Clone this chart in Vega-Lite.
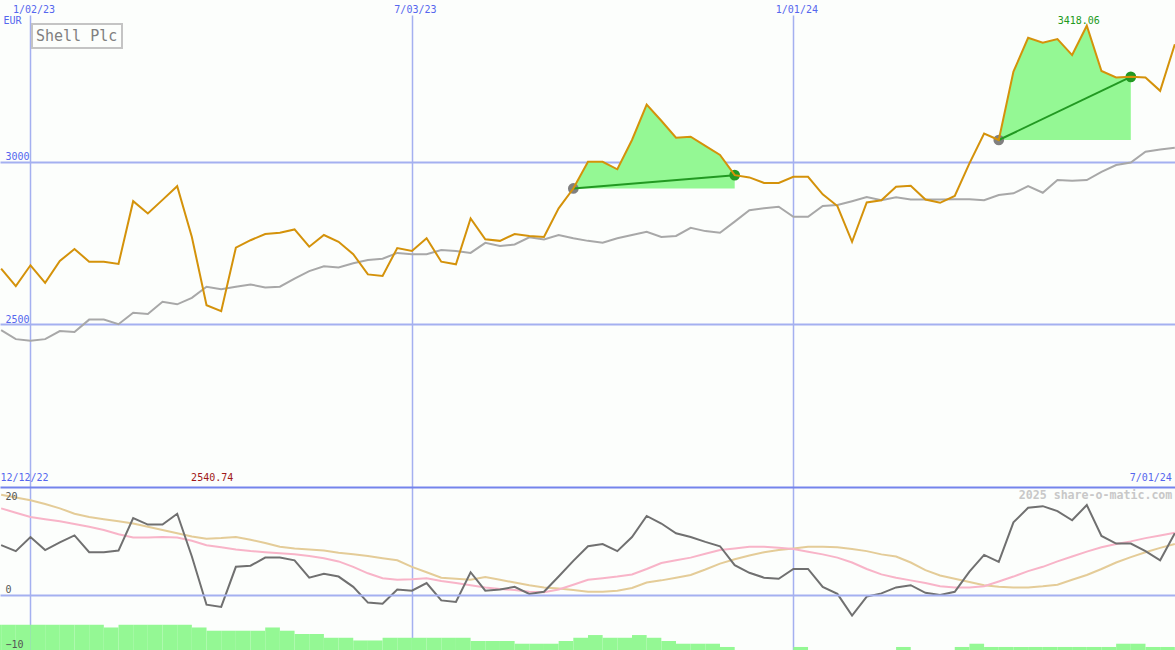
{
"$schema": "https://vega.github.io/schema/vega-lite/v6.json",
"width": 1175,
"height": 635,
"autosize": {"type": "none"},
"padding": {"top": 15, "left": 0, "right": 0, "bottom": 0},
"background": "#fcfefc",
"config": {"view": {"stroke": null}, "font": "DejaVu Sans Mono"},
"datasets": {
"w": [
{"d":"2022-12-19","p":2672,"g":2483,"o":9.2,"pk":16.0,"tn":18.5},
{"d":"2022-12-26","p":2618,"g":2455,"o":8.1,"pk":15.2,"tn":18.0},
{"d":"2023-01-02","p":2682,"g":2450,"o":10.7,"pk":14.4,"tn":17.5},
{"d":"2023-01-09","p":2628,"g":2455,"o":8.3,"pk":14.0,"tn":16.8},
{"d":"2023-01-16","p":2695,"g":2480,"o":9.7,"pk":13.6,"tn":16.0},
{"d":"2023-01-23","p":2732,"g":2477,"o":11.0,"pk":13.1,"tn":15.0},
{"d":"2023-01-30","p":2693,"g":2515,"o":7.9,"pk":12.6,"tn":14.4},
{"d":"2023-02-06","p":2693,"g":2515,"o":7.9,"pk":12.0,"tn":14.0},
{"d":"2023-02-13","p":2686,"g":2501,"o":8.2,"pk":11.2,"tn":13.6},
{"d":"2023-02-20","p":2879,"g":2536,"o":14.2,"pk":10.6,"tn":13.2},
{"d":"2023-02-27","p":2841,"g":2532,"o":13.0,"pk":10.6,"tn":12.6},
{"d":"2023-03-06","p":2883,"g":2570,"o":13.0,"pk":10.7,"tn":12.0},
{"d":"2023-03-13","p":2925,"g":2562,"o":15.0,"pk":10.6,"tn":11.4},
{"d":"2023-03-20","p":2769,"g":2582,"o":7.1,"pk":10.0,"tn":10.8},
{"d":"2023-03-27","p":2559,"g":2616,"o":-1.8,"pk":9.2,"tn":10.4},
{"d":"2023-04-03","p":2540.74,"g":2608,"o":-2.2,"pk":8.8,"tn":10.5},
{"d":"2023-04-10","p":2736,"g":2616,"o":5.2,"pk":8.4,"tn":10.7},
{"d":"2023-04-17","p":2759,"g":2623,"o":5.4,"pk":8.1,"tn":10.2},
{"d":"2023-04-24","p":2778,"g":2614,"o":6.9,"pk":7.9,"tn":9.6},
{"d":"2023-05-01","p":2782,"g":2616,"o":6.9,"pk":7.7,"tn":8.9},
{"d":"2023-05-08","p":2792,"g":2641,"o":6.4,"pk":7.5,"tn":8.6},
{"d":"2023-05-15","p":2739,"g":2664,"o":3.2,"pk":7.2,"tn":8.4},
{"d":"2023-05-22","p":2775,"g":2679,"o":3.9,"pk":6.8,"tn":8.2},
{"d":"2023-05-29","p":2754,"g":2675,"o":3.4,"pk":6.2,"tn":7.8},
{"d":"2023-06-05","p":2716,"g":2688,"o":1.5,"pk":5.2,"tn":7.5},
{"d":"2023-06-12","p":2654,"g":2698,"o":-1.4,"pk":4.0,"tn":7.2},
{"d":"2023-06-19","p":2649,"g":2702,"o":-1.6,"pk":3.1,"tn":6.8},
{"d":"2023-06-26","p":2735,"g":2720,"o":1.0,"pk":2.8,"tn":6.4},
{"d":"2023-07-03","p":2726,"g":2716,"o":0.8,"pk":2.9,"tn":5.2},
{"d":"2023-07-10","p":2765,"g":2716,"o":2.2,"pk":3.1,"tn":4.2},
{"d":"2023-07-17","p":2693,"g":2729,"o":-1.0,"pk":2.6,"tn":3.2},
{"d":"2023-07-24","p":2685,"g":2726,"o":-1.3,"pk":2.2,"tn":3.0},
{"d":"2023-07-31","p":2826,"g":2720,"o":4.2,"pk":1.8,"tn":2.8},
{"d":"2023-08-07","p":2762,"g":2751,"o":0.8,"pk":1.4,"tn":3.3},
{"d":"2023-08-14","p":2757,"g":2741,"o":1.0,"pk":1.1,"tn":2.8},
{"d":"2023-08-21","p":2778,"g":2746,"o":1.5,"pk":0.9,"tn":2.3},
{"d":"2023-08-28","p":2772,"g":2768,"o":0.2,"pk":0.6,"tn":1.8},
{"d":"2023-09-04","p":2769,"g":2761,"o":0.6,"pk":0.5,"tn":1.4},
{"d":"2023-09-11","p":2857,"g":2775,"o":3.4,"pk":1.0,"tn":1.2},
{"d":"2023-09-18","p":2918,"g":2765,"o":6.3,"pk":1.9,"tn":0.9},
{"d":"2023-09-25","p":3000,"g":2757,"o":9.0,"pk":2.8,"tn":0.6},
{"d":"2023-10-02","p":3000,"g":2751,"o":9.4,"pk":3.1,"tn":0.6},
{"d":"2023-10-09","p":2977,"g":2765,"o":8.1,"pk":3.4,"tn":0.8},
{"d":"2023-10-16","p":3067,"g":2775,"o":10.7,"pk":3.8,"tn":1.3},
{"d":"2023-10-23","p":3176,"g":2785,"o":14.6,"pk":4.8,"tn":2.3},
{"d":"2023-10-30","p":3126,"g":2769,"o":13.2,"pk":5.9,"tn":2.7},
{"d":"2023-11-06","p":3074,"g":2772,"o":11.4,"pk":6.4,"tn":3.2},
{"d":"2023-11-13","p":3077,"g":2797,"o":10.7,"pk":6.9,"tn":3.7},
{"d":"2023-11-20","p":3049,"g":2787,"o":9.8,"pk":7.6,"tn":4.7},
{"d":"2023-11-27","p":3021,"g":2782,"o":9.0,"pk":8.3,"tn":5.8},
{"d":"2023-12-04","p":2959,"g":2816,"o":5.5,"pk":8.6,"tn":6.6},
{"d":"2023-12-11","p":2952,"g":2851,"o":4.1,"pk":8.9,"tn":7.3},
{"d":"2023-12-18","p":2935,"g":2857,"o":3.2,"pk":8.9,"tn":7.9},
{"d":"2023-12-25","p":2935,"g":2862,"o":3.0,"pk":8.7,"tn":8.3},
{"d":"2024-01-01","p":2954,"g":2831,"o":4.8,"pk":8.5,"tn":8.6},
{"d":"2024-01-08","p":2954,"g":2831,"o":4.8,"pk":8.0,"tn":8.9},
{"d":"2024-01-15","p":2900,"g":2864,"o":1.5,"pk":7.5,"tn":8.9},
{"d":"2024-01-22","p":2864,"g":2867,"o":0.2,"pk":6.9,"tn":8.8},
{"d":"2024-01-29","p":2754,"g":2879,"o":-3.8,"pk":6.0,"tn":8.5},
{"d":"2024-02-05","p":2875,"g":2892,"o":-0.3,"pk":4.8,"tn":8.1},
{"d":"2024-02-12","p":2882,"g":2882,"o":0.3,"pk":3.8,"tn":7.5},
{"d":"2024-02-19","p":2923,"g":2891,"o":1.4,"pk":3.2,"tn":7.1},
{"d":"2024-02-26","p":2926,"g":2884,"o":1.8,"pk":2.7,"tn":6.0},
{"d":"2024-03-04","p":2884,"g":2884,"o":0.4,"pk":2.2,"tn":4.6},
{"d":"2024-03-11","p":2874,"g":2884,"o":0.0,"pk":1.6,"tn":3.6},
{"d":"2024-03-18","p":2895,"g":2885,"o":0.6,"pk":1.4,"tn":3.0},
{"d":"2024-03-25","p":2995,"g":2885,"o":4.3,"pk":1.4,"tn":2.4},
{"d":"2024-04-01","p":3087,"g":2882,"o":7.4,"pk":1.6,"tn":1.8},
{"d":"2024-04-08","p":3067,"g":2898,"o":6.1,"pk":2.5,"tn":1.5},
{"d":"2024-04-15","p":3277,"g":2903,"o":13.4,"pk":3.4,"tn":1.4},
{"d":"2024-04-22","p":3381,"g":2925,"o":16.1,"pk":4.4,"tn":1.4},
{"d":"2024-04-29","p":3366,"g":2905,"o":16.4,"pk":5.2,"tn":1.6},
{"d":"2024-05-06","p":3377,"g":2944,"o":15.5,"pk":6.2,"tn":1.9},
{"d":"2024-05-13","p":3328,"g":2942,"o":13.8,"pk":7.1,"tn":2.8},
{"d":"2024-05-20","p":3418.06,"g":2944,"o":16.6,"pk":8.0,"tn":3.7},
{"d":"2024-05-27","p":3279,"g":2969,"o":10.9,"pk":8.8,"tn":4.8},
{"d":"2024-06-03","p":3259,"g":2990,"o":9.5,"pk":9.4,"tn":6.0},
{"d":"2024-06-10","p":3261,"g":2998,"o":9.5,"pk":9.9,"tn":7.0},
{"d":"2024-06-17","p":3259,"g":3031,"o":8.1,"pk":10.5,"tn":7.9},
{"d":"2024-06-24","p":3218,"g":3038,"o":6.4,"pk":11.0,"tn":8.7},
{"d":"2024-07-01","p":3361,"g":3043,"o":11.4,"pk":11.5,"tn":9.4}
],
"bars": [
{"d":"2022-12-12","e":"2022-12-19","v":-5.5},
{"d":"2022-12-19","e":"2022-12-26","v":-5.5},
{"d":"2022-12-26","e":"2023-01-02","v":-5.5},
{"d":"2023-01-02","e":"2023-01-09","v":-5.5},
{"d":"2023-01-09","e":"2023-01-16","v":-5.5},
{"d":"2023-01-16","e":"2023-01-23","v":-5.5},
{"d":"2023-01-23","e":"2023-01-30","v":-5.5},
{"d":"2023-01-30","e":"2023-02-06","v":-5.5},
{"d":"2023-02-06","e":"2023-02-13","v":-6.0},
{"d":"2023-02-13","e":"2023-02-20","v":-5.5},
{"d":"2023-02-20","e":"2023-02-27","v":-5.5},
{"d":"2023-02-27","e":"2023-03-06","v":-5.5},
{"d":"2023-03-06","e":"2023-03-13","v":-5.5},
{"d":"2023-03-13","e":"2023-03-20","v":-5.5},
{"d":"2023-03-20","e":"2023-03-27","v":-6.0},
{"d":"2023-03-27","e":"2023-04-03","v":-6.6},
{"d":"2023-04-03","e":"2023-04-10","v":-6.6},
{"d":"2023-04-10","e":"2023-04-17","v":-6.6},
{"d":"2023-04-17","e":"2023-04-24","v":-6.6},
{"d":"2023-04-24","e":"2023-05-01","v":-6.0},
{"d":"2023-05-01","e":"2023-05-08","v":-6.6},
{"d":"2023-05-08","e":"2023-05-15","v":-7.2},
{"d":"2023-05-15","e":"2023-05-22","v":-7.2},
{"d":"2023-05-22","e":"2023-05-29","v":-7.9},
{"d":"2023-05-29","e":"2023-06-05","v":-7.9},
{"d":"2023-06-05","e":"2023-06-12","v":-8.4},
{"d":"2023-06-12","e":"2023-06-19","v":-8.4},
{"d":"2023-06-19","e":"2023-06-26","v":-7.9},
{"d":"2023-06-26","e":"2023-07-03","v":-7.9},
{"d":"2023-07-03","e":"2023-07-10","v":-7.9},
{"d":"2023-07-10","e":"2023-07-17","v":-7.9},
{"d":"2023-07-17","e":"2023-07-24","v":-7.9},
{"d":"2023-07-24","e":"2023-07-31","v":-7.9},
{"d":"2023-07-31","e":"2023-08-07","v":-8.5},
{"d":"2023-08-07","e":"2023-08-14","v":-8.5},
{"d":"2023-08-14","e":"2023-08-21","v":-8.5},
{"d":"2023-08-21","e":"2023-08-28","v":-9.0},
{"d":"2023-08-28","e":"2023-09-04","v":-9.0},
{"d":"2023-09-04","e":"2023-09-11","v":-9.0},
{"d":"2023-09-11","e":"2023-09-18","v":-8.5},
{"d":"2023-09-18","e":"2023-09-25","v":-7.9},
{"d":"2023-09-25","e":"2023-10-02","v":-7.4},
{"d":"2023-10-02","e":"2023-10-09","v":-7.9},
{"d":"2023-10-09","e":"2023-10-16","v":-7.9},
{"d":"2023-10-16","e":"2023-10-23","v":-7.4},
{"d":"2023-10-23","e":"2023-10-30","v":-7.9},
{"d":"2023-10-30","e":"2023-11-06","v":-8.5},
{"d":"2023-11-06","e":"2023-11-13","v":-9.0},
{"d":"2023-11-13","e":"2023-11-20","v":-9.0},
{"d":"2023-11-20","e":"2023-11-27","v":-9.0},
{"d":"2023-11-27","e":"2023-12-04","v":-9.6},
{"d":"2024-01-01","e":"2024-01-08","v":-9.6},
{"d":"2024-02-19","e":"2024-02-26","v":-9.6},
{"d":"2024-03-18","e":"2024-03-25","v":-9.6},
{"d":"2024-03-25","e":"2024-04-01","v":-9.0},
{"d":"2024-04-01","e":"2024-04-08","v":-9.6},
{"d":"2024-04-08","e":"2024-04-15","v":-9.6},
{"d":"2024-04-15","e":"2024-04-22","v":-9.6},
{"d":"2024-04-22","e":"2024-04-29","v":-9.6},
{"d":"2024-04-29","e":"2024-05-06","v":-9.6},
{"d":"2024-05-06","e":"2024-05-13","v":-9.6},
{"d":"2024-05-13","e":"2024-05-20","v":-9.6},
{"d":"2024-05-20","e":"2024-05-27","v":-9.6},
{"d":"2024-05-27","e":"2024-06-03","v":-9.6},
{"d":"2024-06-03","e":"2024-06-10","v":-9.0},
{"d":"2024-06-10","e":"2024-06-17","v":-9.0},
{"d":"2024-06-17","e":"2024-06-24","v":-9.6},
{"d":"2024-06-24","e":"2024-07-01","v":-9.6}
],
"fill": [
{"d":"2023-09-18","p":2918,"base":2918,"s":"A"},
{"d":"2023-09-25","p":3000,"base":2918,"s":"A"},
{"d":"2023-10-02","p":3000,"base":2918,"s":"A"},
{"d":"2023-10-09","p":2977,"base":2918,"s":"A"},
{"d":"2023-10-16","p":3067,"base":2918,"s":"A"},
{"d":"2023-10-23","p":3176,"base":2918,"s":"A"},
{"d":"2023-10-30","p":3126,"base":2918,"s":"A"},
{"d":"2023-11-06","p":3074,"base":2918,"s":"A"},
{"d":"2023-11-13","p":3077,"base":2918,"s":"A"},
{"d":"2023-11-20","p":3049,"base":2918,"s":"A"},
{"d":"2023-11-27","p":3021,"base":2918,"s":"A"},
{"d":"2023-12-04","p":2959,"base":2918,"s":"A"},
{"d":"2024-04-08","p":3067,"base":3067,"s":"B"},
{"d":"2024-04-15","p":3277,"base":3067,"s":"B"},
{"d":"2024-04-22","p":3381,"base":3067,"s":"B"},
{"d":"2024-04-29","p":3366,"base":3067,"s":"B"},
{"d":"2024-05-06","p":3377,"base":3067,"s":"B"},
{"d":"2024-05-13","p":3328,"base":3067,"s":"B"},
{"d":"2024-05-20","p":3418.06,"base":3067,"s":"B"},
{"d":"2024-05-27","p":3279,"base":3067,"s":"B"},
{"d":"2024-06-03","p":3259,"base":3067,"s":"B"},
{"d":"2024-06-10","p":3261,"base":3067,"s":"B"}
],
"trade": [
{"d":"2023-09-18","p":2918,"s":"A","kind":"entry"},
{"d":"2023-12-04","p":2959,"s":"A","kind":"exit"},
{"d":"2024-04-08","p":3067,"s":"B","kind":"entry"},
{"d":"2024-06-10","p":3261,"s":"B","kind":"exit"}
],
"range": [
{"d":"2022-12-12","side":"start","t":"12/12/22"},
{"d":"2024-07-01","side":"end","t":"7/01/24","w":"2025 share-o-matic.com"}
]
},
"encoding": {
"x": {"field": "d", "type": "temporal",
 "scale": {"type": "utc", "nice": false, "domain": [{"year":2022,"month":12,"date":18,"hours":11,"utc":true},{"year":2024,"month":7,"date":1,"hours":2,"utc":true}]},
 "axis": {"orient": "top", "values": [1672617600000, 1688342400000, 1704067200000],
  "labelExpr": "utcFormat(datum.value, '%-m/%d/%y')", "grid": true, "gridColor": "#a4b0f0", "gridWidth": 1.5,
  "domain": false, "ticks": false, "tickSize": 0, "labelPadding": 1, "labelOffset": 3,
  "labelColor": "#5566ee", "labelFont": "DejaVu Sans Mono", "labelFontSize": 10,
  "labelFlush": false, "labelOverlap": false, "title": null}}
},
"layer": [
{
"data": {"name": "w"},
"mark": {"type": "line", "color": "#a8a8a8", "strokeWidth": 2},
"encoding": {
"y": {"field": "g", "type": "quantitative",
 "scale": {"domain": [1499.7, 3451.1], "zero": false, "nice": false},
 "axis": {"orient": "left", "values": [2500, 3000], "format": "d", "grid": true, "gridColor": "#a4b0f0", "gridWidth": 2,
  "domain": false, "ticks": false, "tickSize": 0, "labelAlign": "left", "labelBaseline": "bottom", "labelPadding": -5,
  "labelColor": "#5566ee", "labelFont": "DejaVu Sans Mono", "labelFontSize": 10, "labelOverlap": false,
  "title": "EUR", "titleAngle": 0, "titleX": 3, "titleY": 5, "titleAlign": "left", "titleBaseline": "middle",
  "titleColor": "#5566ee", "titleFont": "DejaVu Sans Mono", "titleFontSize": 10, "titleFontWeight": "normal"}}
}
},
{
"data": {"name": "fill"},
"mark": {"type": "area", "color": "#94f894", "opacity": 1},
"encoding": {
"y": {"field": "p", "type": "quantitative", "scale": {"domain": [1499.7, 3451.1], "zero": false, "nice": false}, "axis": null},
"y2": {"field": "base"},
"detail": {"field": "s", "type": "nominal"}
}
},
{
"data": {"name": "trade"},
"transform": [{"filter": "datum.kind == 'entry'"}],
"mark": {"type": "circle", "size": 115, "color": "#808080", "opacity": 1},
"encoding": {
"y": {"field": "p", "type": "quantitative", "scale": {"domain": [1499.7, 3451.1], "zero": false, "nice": false}, "axis": null}
}
},
{
"data": {"name": "trade"},
"transform": [{"filter": "datum.kind == 'exit'"}],
"mark": {"type": "circle", "size": 115, "color": "#229922", "opacity": 1},
"encoding": {
"y": {"field": "p", "type": "quantitative", "scale": {"domain": [1499.7, 3451.1], "zero": false, "nice": false}, "axis": null}
}
},
{
"data": {"name": "trade"},
"mark": {"type": "line", "color": "#229922", "strokeWidth": 2},
"encoding": {
"y": {"field": "p", "type": "quantitative", "scale": {"domain": [1499.7, 3451.1], "zero": false, "nice": false}, "axis": null},
"detail": {"field": "s", "type": "nominal"}
}
},
{
"data": {"name": "w"},
"mark": {"type": "line", "strokeWidth": 2},
"encoding": {
"y": {"field": "p", "type": "quantitative", "scale": {"domain": [1499.7, 3451.1], "zero": false, "nice": false}, "axis": null},
"color": {"datum": "Shell Plc", "type": "nominal", "scale": {"range": ["#d4920a"]},
 "legend": {"orient": "none", "legendX": 32, "legendY": 9, "title": null, "padding": 4,
  "strokeColor": "#c4c4c4", "fillColor": "#fcfefc", "symbolSize": 0, "symbolOpacity": 0, "symbolStrokeWidth": 0,
  "labelOffset": -15, "labelFont": "DejaVu Sans Mono", "labelFontSize": 15, "labelColor": "#808080", "labelLimit": 0,
  "encode": {"legend": {"update": {"strokeWidth": {"value": 2}}}}}}
}
},
{
"data": {"name": "w"},
"transform": [{"filter": "datum.p == 3418.06"}],
"mark": {"type": "text", "color": "#209a20", "font": "DejaVu Sans Mono", "fontSize": 10, "align": "center", "baseline": "middle", "dx": -8, "dy": -5},
"encoding": {
"y": {"field": "p", "type": "quantitative", "scale": {"domain": [1499.7, 3451.1], "zero": false, "nice": false}, "axis": null},
"text": {"field": "p", "type": "quantitative", "format": ".2f"}
}
},
{
"data": {"name": "bars"},
"mark": {"type": "bar", "color": "#94f894", "opacity": 1, "clip": true},
"encoding": {
"x2": {"field": "e"},
"y": {"field": "v", "type": "quantitative", "scale": {"domain": [-10.16, 107.1], "zero": false, "nice": false}, "axis": null},
"y2": {"datum": -10.16}
}
},
{
"data": {"name": "w"},
"mark": {"type": "line", "color": "#e4cc98", "strokeWidth": 2},
"encoding": {
"y": {"field": "tn", "type": "quantitative",
 "scale": {"domain": [-10.16, 107.1], "zero": false, "nice": false},
 "axis": {"orient": "left", "values": [-10, 0, 20], "grid": true, "zindex": 1,
  "gridColor": {"condition": {"test": "datum.value == 20", "value": "#7484ec"}, "value": "#a4b0f0"},
  "gridOpacity": {"condition": {"test": "datum.value < 0", "value": 0}, "value": 1},
  "gridWidth": 2, "domain": false, "ticks": false, "tickSize": 0,
  "labelAlign": "left", "labelBaseline": "bottom", "labelPadding": -5,
  "labelOffset": {"condition": {"test": "datum.value == 20", "value": 15}, "value": 0},
  "labelColor": "#555555", "labelFont": "DejaVu Sans Mono", "labelFontSize": 10, "labelOverlap": false, "title": null}}
}
},
{
"data": {"name": "w"},
"mark": {"type": "line", "color": "#f8b4c8", "strokeWidth": 2},
"encoding": {
"y": {"field": "pk", "type": "quantitative", "scale": {"domain": [-10.16, 107.1], "zero": false, "nice": false}, "axis": null}
}
},
{
"data": {"name": "w"},
"mark": {"type": "line", "color": "#707070", "strokeWidth": 2},
"encoding": {
"y": {"field": "o", "type": "quantitative", "scale": {"domain": [-10.16, 107.1], "zero": false, "nice": false}, "axis": null}
}
},
{
"data": {"name": "range"},
"transform": [{"filter": "datum.side == 'start'"}],
"mark": {"type": "text", "color": "#5566ee", "font": "DejaVu Sans Mono", "fontSize": 10, "align": "left", "baseline": "middle", "dx": 14, "dy": -9},
"encoding": {
"y": {"datum": 20, "type": "quantitative", "scale": {"domain": [-10.16, 107.1], "zero": false, "nice": false}, "axis": null},
"text": {"field": "t", "type": "nominal"}
}
},
{
"data": {"name": "range"},
"transform": [{"filter": "datum.side == 'end'"}],
"mark": {"type": "text", "color": "#5566ee", "font": "DejaVu Sans Mono", "fontSize": 10, "align": "right", "baseline": "middle", "dx": -3, "dy": -9},
"encoding": {
"y": {"datum": 20, "type": "quantitative", "scale": {"domain": [-10.16, 107.1], "zero": false, "nice": false}, "axis": null},
"text": {"field": "t", "type": "nominal"}
}
},
{
"data": {"name": "range"},
"transform": [{"filter": "datum.side == 'end'"}],
"mark": {"type": "text", "color": "#c8c8c8", "font": "DejaVu Sans Mono", "fontSize": 11.6, "fontWeight": "bold", "align": "right", "baseline": "middle", "dx": -2.5, "dy": 9.5},
"encoding": {
"y": {"datum": 20, "type": "quantitative", "scale": {"domain": [-10.16, 107.1], "zero": false, "nice": false}, "axis": null},
"text": {"field": "w", "type": "nominal"}
}
},
{
"data": {"name": "w"},
"transform": [{"filter": "datum.p == 2540.74"}],
"mark": {"type": "text", "color": "#a01818", "font": "DejaVu Sans Mono", "fontSize": 10, "align": "center", "baseline": "middle", "dx": -9, "dy": -9},
"encoding": {
"y": {"datum": 20, "type": "quantitative", "scale": {"domain": [-10.16, 107.1], "zero": false, "nice": false}, "axis": null},
"text": {"field": "p", "type": "quantitative", "format": ".2f"}
}
}
],
"resolve": {"scale": {"y": "independent"}}
}
